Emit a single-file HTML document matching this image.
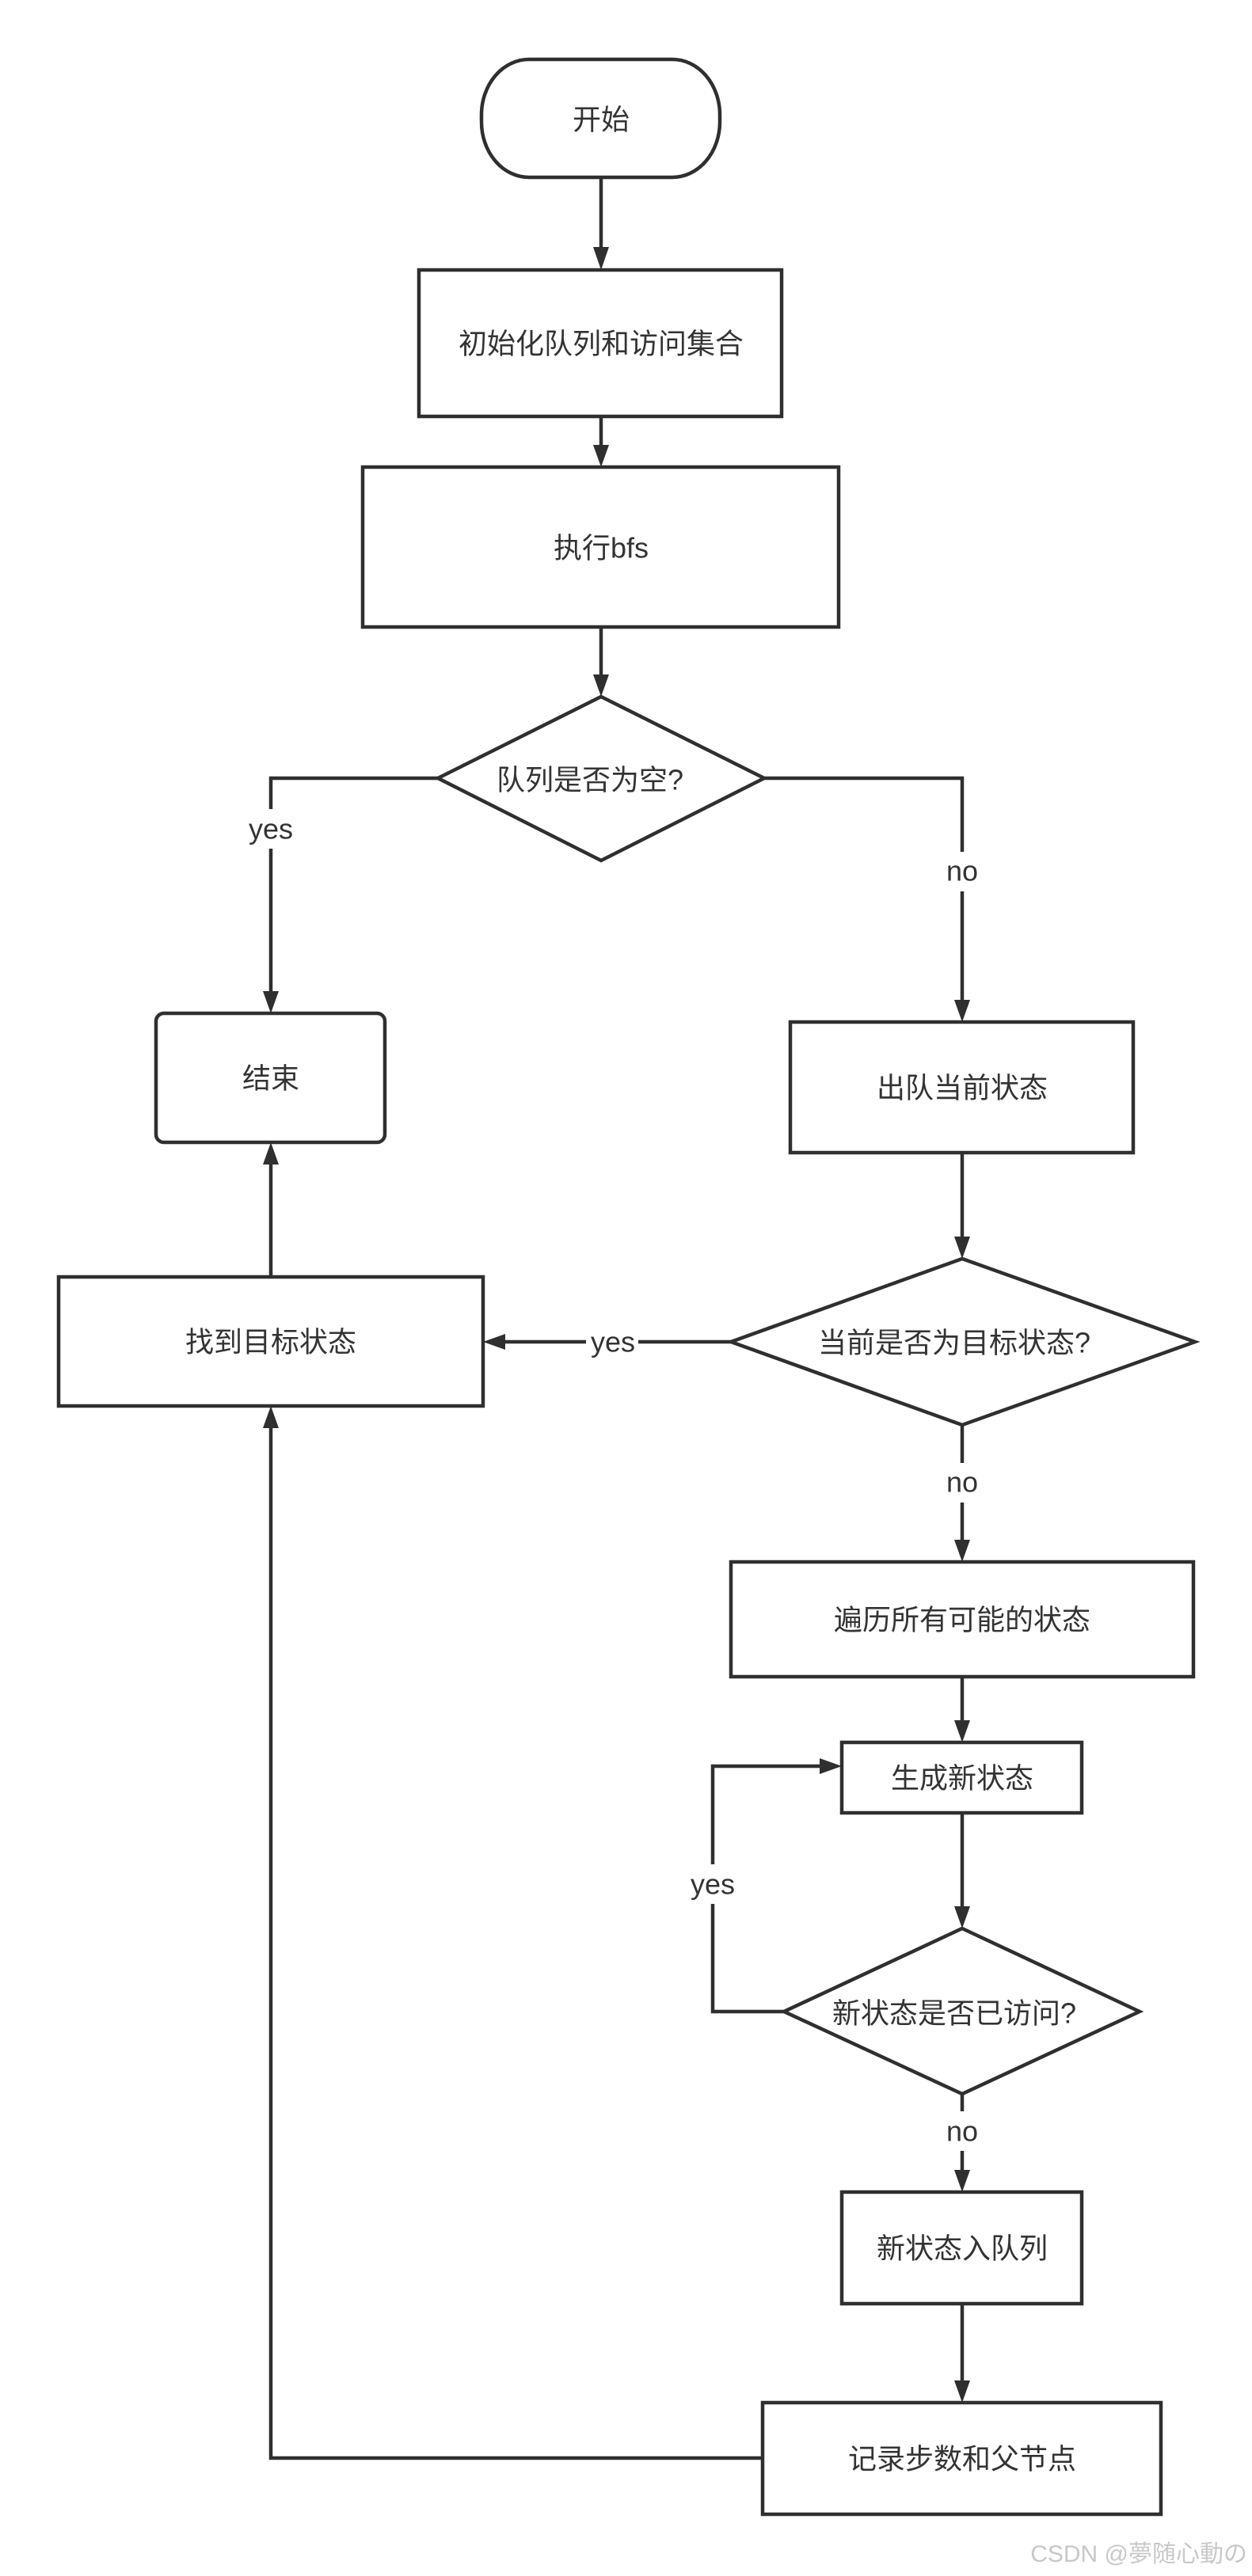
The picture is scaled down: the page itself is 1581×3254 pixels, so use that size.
<!DOCTYPE html>
<html><head><meta charset="utf-8"><style>
html,body{margin:0;padding:0;background:#fff;}
svg{display:block}
text{font-family:"Liberation Sans","Noto Sans CJK SC",sans-serif;fill:#333;}
</style></head><body>
<svg width="1581" height="3254" viewBox="0 0 1581 3254" xmlns="http://www.w3.org/2000/svg">
<defs>
<marker id="a" markerWidth="8" markerHeight="8" refX="7" refY="4" orient="auto" markerUnits="userSpaceOnUse" viewBox="0 0 8 8">
</marker>
</defs>
<g stroke="#2f2f2f" stroke-width="4.5" fill="none">
<!-- nodes -->
<rect x="608" y="75" width="301" height="149" rx="60" ry="70" fill="#fff"/>
<rect x="529" y="341" width="458" height="185" fill="#fff"/>
<rect x="458" y="590" width="601" height="202" fill="#fff"/>
<polygon points="759,880 965,983 759,1087 553,983" fill="#fff"/>
<rect x="197" y="1280" width="289" height="163" rx="10" fill="#fff"/>
<rect x="998" y="1291" width="433" height="165" fill="#fff"/>
<polygon points="1215,1590 1509,1695 1215,1800 923,1695" fill="#fff"/>
<rect x="74" y="1613" width="536" height="163" fill="#fff"/>
<rect x="923" y="1973" width="584" height="145" fill="#fff"/>
<rect x="1063" y="2201" width="303" height="89" fill="#fff"/>
<polygon points="1215,2436 1439,2541 1215,2645 990,2541" fill="#fff"/>
<rect x="1063" y="2769" width="303" height="141" fill="#fff"/>
<rect x="963" y="3035" width="503" height="141" fill="#fff"/>
<!-- connectors -->
<polyline points="759,224 759,315"/>
<polyline points="759,526 759,565"/>
<polyline points="759,792 759,855"/>
<polyline points="553,983 342,983 342,1255"/>
<polyline points="965,983 1215,983 1215,1266"/>
<polyline points="1215,1456 1215,1565"/>
<polyline points="923,1695 635,1695"/>
<polyline points="342,1613 342,1468"/>
<polyline points="1215,1800 1215,1948"/>
<polyline points="1215,2118 1215,2176"/>
<polyline points="1215,2290 1215,2411"/>
<polyline points="990,2541 900,2541 900,2231 1038,2231"/>
<polyline points="1215,2645 1215,2744"/>
<polyline points="1215,2910 1215,3010"/>
<polyline points="963,3105 342,3105 342,1801"/>
</g>
<g fill="#2f2f2f">
<polygon points="749,312 769,312 759,341"/>
<polygon points="749,562 769,562 759,590"/>
<polygon points="749,852 769,852 759,880"/>
<polygon points="332,1252 352,1252 342,1280"/>
<polygon points="1205,1263 1225,1263 1215,1291"/>
<polygon points="1205,1562 1225,1562 1215,1590"/>
<polygon points="638,1685 638,1705 610,1695"/>
<polygon points="332,1471 352,1471 342,1443"/>
<polygon points="1205,1945 1225,1945 1215,1973"/>
<polygon points="1205,2173 1225,2173 1215,2201"/>
<polygon points="1205,2408 1225,2408 1215,2436"/>
<polygon points="1035,2221 1035,2241 1063,2231"/>
<polygon points="1205,2741 1225,2741 1215,2769"/>
<polygon points="1205,3007 1225,3007 1215,3035"/>
<polygon points="332,1804 352,1804 342,1776"/>
</g>
<!-- label backgrounds -->
<g fill="#fff">
<rect x="312" y="1022" width="60" height="50"/>
<rect x="1190" y="1076" width="50" height="50"/>
<rect x="740" y="1672" width="66" height="46"/>
<rect x="1190" y="1848" width="50" height="50"/>
<rect x="870" y="2355" width="60" height="50"/>
<rect x="1190" y="2667" width="50" height="50"/>
</g>
<g font-size="36" text-anchor="middle" dominant-baseline="central">
<text x="759" y="151">开始</text>
<text x="759" y="434">初始化队列和访问集合</text>
<text x="759" y="692">执行bfs</text>
<text x="745" y="985">队列是否为空?</text>
<text x="342" y="1047">yes</text>
<text x="1215" y="1100">no</text>
<text x="342" y="1362">结束</text>
<text x="1215" y="1374">出队当前状态</text>
<text x="1205" y="1696">当前是否为目标状态?</text>
<text x="774" y="1695">yes</text>
<text x="342" y="1695">找到目标状态</text>
<text x="1215" y="1872">no</text>
<text x="1215" y="2046">遍历所有可能的状态</text>
<text x="1215" y="2246">生成新状态</text>
<text x="900" y="2380">yes</text>
<text x="1205" y="2543">新状态是否已访问?</text>
<text x="1215" y="2692">no</text>
<text x="1215" y="2840">新状态入队列</text>
<text x="1215" y="3106">记录步数和父节点</text>
</g>
<text x="1575" y="3236" font-size="30" text-anchor="end" style="fill:#c8c8c8">CSDN @夢随心動の</text>
</svg>
</body></html>
